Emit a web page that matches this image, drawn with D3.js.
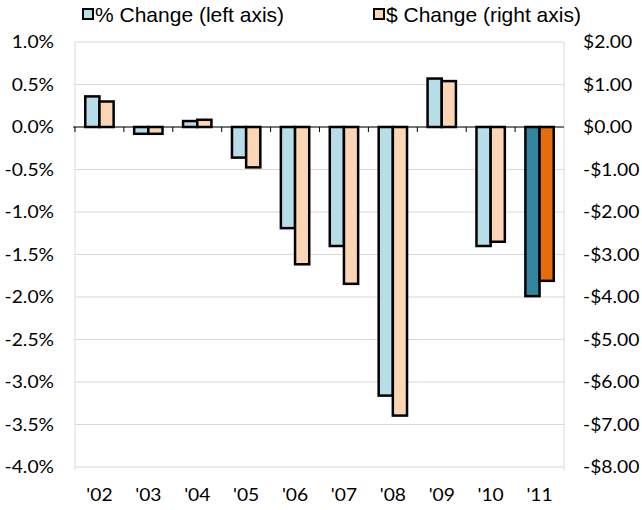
<!DOCTYPE html>
<html>
<head>
<meta charset="utf-8">
<script src="https://cdn.jsdelivr.net/npm/d3@7/dist/d3.min.js"></script>
<style>
  body { margin: 0; background: #fff; }
  svg { display: block; }
  .tick text { font-family: Lato, "Liberation Sans", sans-serif; font-size: 17.5px; fill: #000; }
  .legend text { font-family: "Liberation Sans", Arial, sans-serif; font-size: 21px; fill: #000; }
</style>
</head>
<body>
<svg id="chart" width="642" height="510"></svg>
<script>
var years = ["'02", "'03", "'04", "'05", "'06", "'07", "'08", "'09", "'10", "'11"];
var pctChange = [0.36, -0.08, 0.07, -0.36, -1.19, -1.40, -3.16, 0.57, -1.40, -1.99];
var dollarChange = [0.60, -0.16, 0.17, -0.95, -3.23, -3.69, -6.79, 1.08, -2.70, -3.62];
var leftTicks = [1.0, 0.5, 0, -0.5, -1.0, -1.5, -2.0, -2.5, -3.0, -3.5, -4.0];
var rightTicks = [2, 1, 0, -1, -2, -3, -4, -5, -6, -7, -8];

var colors = {
    pct: "#b7dde8", dollar: "#fcd5b5",
    pctLast: "#31859c", dollarLast: "#e46c0a"
};

var svg = d3.select("#chart");
var plotLeft = 75, plotRight = 564, plotTop = 42, plotBottom = 467;

var x = d3.scaleBand().domain(years).range([plotLeft, plotRight]);
var yL = d3.scaleLinear().domain([-4, 1]).range([plotBottom, plotTop]);
var yR = d3.scaleLinear().domain([-8, 2]).range([plotBottom, plotTop]);

// widen tick labels a little, the source font is broader than Lato
function stretch(sel, k) {
    sel.each(function() {
        var w = this.getComputedTextLength();
        d3.select(this).attr("textLength", w * k).attr("lengthAdjust", "spacingAndGlyphs");
    });
}

// gridlines
svg.append("g").selectAll("line")
    .data(leftTicks)
    .enter().append("line")
    .attr("x1", plotLeft).attr("x2", plotRight)
    .attr("y1", function(d) { return yL(d); })
    .attr("y2", function(d) { return yL(d); })
    .attr("stroke", "#d9d9d9").attr("stroke-width", 1);

// axis lines
svg.append("line").attr("x1", plotLeft).attr("x2", plotLeft)
    .attr("y1", plotTop).attr("y2", plotBottom + 3)
    .attr("stroke", "#d9d9d9");
svg.append("line").attr("x1", plotRight).attr("x2", plotRight)
    .attr("y1", plotTop).attr("y2", plotBottom + 3)
    .attr("stroke", "#d9d9d9");

// left axis labels
var leftAxis = svg.append("g")
    .attr("transform", "translate(" + plotLeft + ",0)")
    .call(d3.axisLeft(yL).tickValues(leftTicks)
        .tickFormat(function(d) { return d.toFixed(1) + "%"; })
        .tickSize(0).tickPadding(21));
leftAxis.select(".domain").remove();
stretch(leftAxis.selectAll("text"), 1.1);

// right axis labels
var rightAxis = svg.append("g")
    .attr("transform", "translate(" + plotRight + ",0)")
    .call(d3.axisRight(yR).tickValues(rightTicks)
        .tickFormat(function(d) { return (d < 0 ? "-$" : "$") + Math.abs(d).toFixed(2); })
        .tickSize(0).tickPadding(19));
rightAxis.select(".domain").remove();
stretch(rightAxis.selectAll("text"), 1.1);

// bottom category labels
var bottomAxis = svg.append("g")
    .attr("transform", "translate(0," + (plotBottom + 16) + ")")
    .call(d3.axisBottom(x).tickSize(0).tickPadding(6));
bottomAxis.select(".domain").remove();
stretch(bottomAxis.selectAll("text"), 1.1);

// bars
var barW = x.bandwidth() * 0.29;
var groups = svg.append("g").selectAll("g")
    .data(years)
    .enter().append("g")
    .attr("transform", function(d) {
        return "translate(" + (x(d) + x.bandwidth() / 2) + ",0)";
    });

groups.append("rect")
    .attr("x", -barW)
    .attr("width", barW)
    .attr("y", function(d, i) { return Math.min(yL(pctChange[i]), yL(0)); })
    .attr("height", function(d, i) { return Math.abs(yL(pctChange[i]) - yL(0)); })
    .attr("fill", function(d, i) { return i == years.length - 1 ? colors.pctLast : colors.pct; })
    .attr("stroke", "#000").attr("stroke-width", 2.5);

groups.append("rect")
    .attr("x", 0)
    .attr("width", barW)
    .attr("y", function(d, i) { return Math.min(yR(dollarChange[i]), yR(0)); })
    .attr("height", function(d, i) { return Math.abs(yR(dollarChange[i]) - yR(0)); })
    .attr("fill", function(d, i) { return i == years.length - 1 ? colors.dollarLast : colors.dollar; })
    .attr("stroke", "#000").attr("stroke-width", 2.5);

// zero line with category ticks
var zeroY = yL(0);
svg.append("line")
    .attr("x1", plotLeft - 2).attr("x2", plotRight)
    .attr("y1", zeroY).attr("y2", zeroY)
    .attr("stroke", "#000").attr("stroke-width", 1);
svg.append("g").selectAll("line")
    .data(years)
    .enter().append("line")
    .attr("x1", function(d) { return x(d); })
    .attr("x2", function(d) { return x(d); })
    .attr("y1", zeroY).attr("y2", zeroY + 5)
    .attr("stroke", "#000").attr("stroke-width", 1);

// legend
var legendItems = [
    { label: "% Change (left axis)", fill: colors.pct, x: 82 },
    { label: "$ Change (right axis)", fill: colors.dollar, x: 373 }
];
var legend = svg.append("g").attr("class", "legend")
    .selectAll("g")
    .data(legendItems)
    .enter().append("g")
    .attr("transform", function(d) { return "translate(" + d.x + ",0)"; });
legend.append("rect")
    .attr("x", 1).attr("y", 9)
    .attr("width", 10).attr("height", 10)
    .attr("fill", function(d) { return d.fill; })
    .attr("stroke", "#000").attr("stroke-width", 2);
legend.append("text")
    .attr("x", 13).attr("y", 22)
    .text(function(d) { return d.label; });
</script>
</body>
</html>
